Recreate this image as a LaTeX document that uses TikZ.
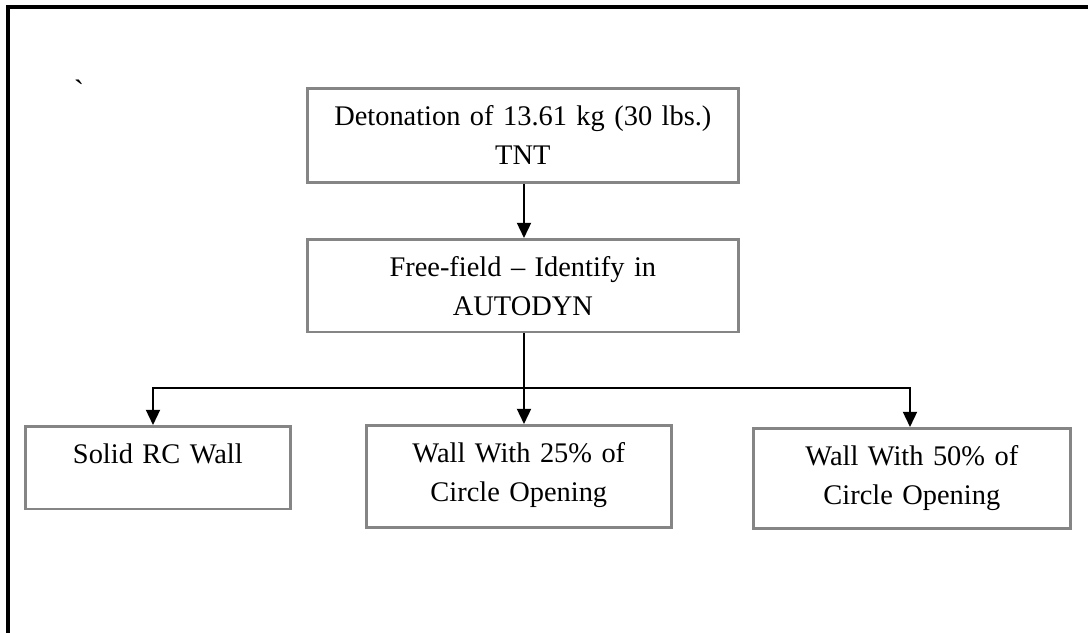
\documentclass[tikz,border=0pt]{standalone}
\usepackage{fontspec}
\setmainfont{Liberation Serif}
\usetikzlibrary{arrows.meta}
\usetikzlibrary{positioning}
\tikzset{
  StepBox/.style={
    rectangle, draw=black!48, line width=0.065cm,
    inner sep=0pt, anchor=north west, align=center,
    text height=0.92cm,
    font=\fontsize{20.2}{28}\selectfont,
  },
  Link/.style={
    line width=0.05cm, draw=black,
    -{Triangle[length=0.38cm,width=0.35cm]},
  },
}
\begin{document}
\begin{tikzpicture}[x=0.025cm,y=-0.025cm]
\useasboundingbox (0,0) rectangle (1088,633);
\draw[line width=0.085cm] (8,633) -- (8,7) -- (1088,7);
\node[font=\fontsize{22}{28}\selectfont, inner sep=0pt] (tick) at (79,91) {\textasciigrave};
\node[StepBox, text width=10.775cm, text depth=1.43cm] (DET) at (306,87) {Detonation of 13.61 kg (30 lbs.)\\TNT};
\node[StepBox, text width=10.775cm, text depth=1.40cm] (FREE) at (306,238) {Free-field -- Identify in\\AUTODYN};
\node[StepBox, text width=6.625cm, text depth=1.15cm] (SOLID) at (24,425) {Solid RC Wall};
\node[StepBox, text width=7.625cm, text depth=1.63cm] (OPEN25) at (365,424) {Wall With 25\% of\\Circle Opening};
\node[StepBox, text width=7.925cm, text depth=1.58cm] (OPEN50) at (752,427) {Wall With 50\% of\\Circle Opening};
\coordinate (BUS) at (524,388);
\draw[Link] (DET.south -| BUS) to (FREE.north -| BUS);
\draw[Link] (FREE.south -| BUS) to (OPEN25.north -| BUS);
\draw[Link] (BUS) -| (SOLID.north -| 153,0);
\draw[Link] (BUS) -| (OPEN50.north -| 910,0);
\end{tikzpicture}
\end{document}
